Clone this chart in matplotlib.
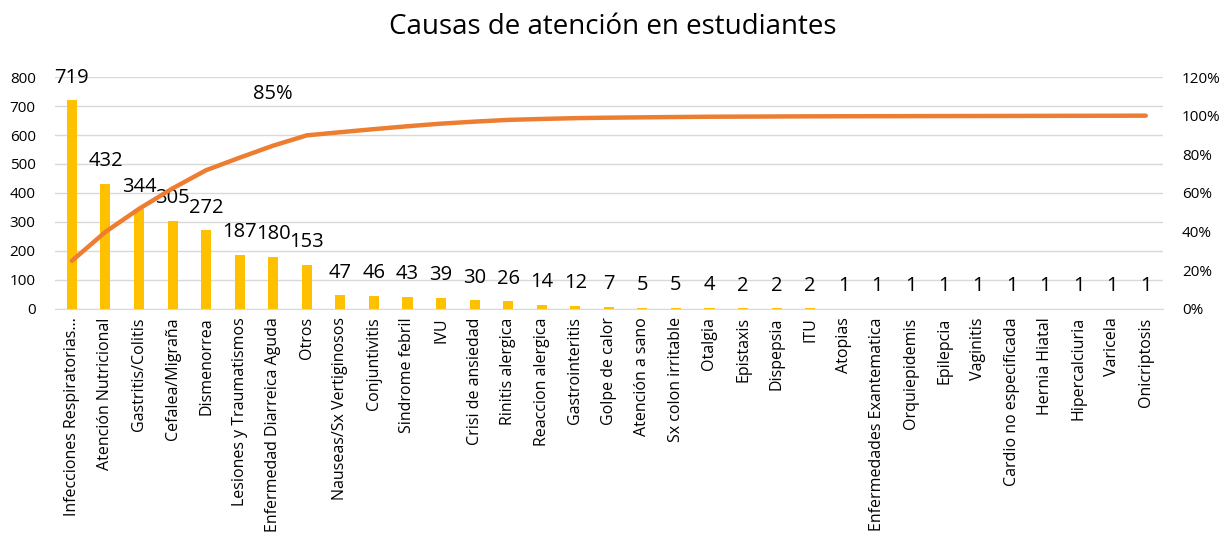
import numpy as np
import matplotlib.pyplot as plt
from matplotlib.ticker import PercentFormatter

plt.rcParams['font.family'] = ['Open Sans', 'DejaVu Sans']

# data
categorias = [
    "Infecciones Respiratorias...", "Atención Nutricional", "Gastritis/Colitis",
    "Cefalea/Migraña", "Dismenorrea", "Lesiones y Traumatismos",
    "Enfermedad Diarreica Aguda", "Otros", "Nauseas/Sx Vertiginosos",
    "Conjuntivitis", "Sindrome febril", "IVU", "Crisi de ansiedad",
    "Rinitis alergica", "Reaccion alergica", "Gastrointeritis", "Golpe de calor",
    "Atención a sano", "Sx colon irritable", "Otalgia", "Epistaxis", "Dispepsia",
    "ITU", "Atopias", "Enfermedades Exantematica", "Orquiepidemis", "Epilepcia",
    "Vaginitis", "Cardio no especificada", "Hernia Hiatal", "Hipercalciuria",
    "Varicela", "Onicriptosis",
]
casos = [719, 432, 344, 305, 272, 187, 180, 153, 47, 46, 43, 39, 30, 26, 14, 12,
         7, 5, 5, 4, 2, 2, 2, 1, 1, 1, 1, 1, 1, 1, 1, 1, 1]
etiqueta_pct = 6  # index of the point that gets the "85%" label

casos = np.array(casos)
acumulado = np.cumsum(casos) / casos.sum() * 100
x = np.arange(len(categorias))

fig = plt.figure(figsize=(12.25, 5.37), dpi=100)
ax = fig.add_axes([0.045, 0.4246, 0.904, 0.432])

ax.bar(x, casos, width=0.3, color='#FFC000', zorder=3)
ax.set_ylim(0, 800)
ax.set_xlim(-0.5, len(categorias) - 0.5)
ax.set_yticks(range(0, 801, 100))
ax.grid(axis='y', color='#D9D9D9', linewidth=1, zorder=0)
for s in ['top', 'right', 'left']:
    ax.spines[s].set_visible(False)
ax.spines['bottom'].set_color('#D9D9D9')
ax.tick_params(axis='y', length=0, labelsize=11, pad=14)
ax.tick_params(axis='x', length=0, pad=6)
ax.set_xticks(x)
ax.set_xticklabels(categorias, rotation=90, fontsize=11.5, va='top')

for xi, v in zip(x, casos):
    ax.annotate(str(v), (xi, v), xytext=(0, 9), textcoords='offset points',
                ha='center', va='bottom', fontsize=14.5, zorder=5)

ax2 = ax.twinx()
ax2.plot(x, acumulado, color='#ED7D31', linewidth=3.2, solid_capstyle='round', zorder=4)
ax2.set_ylim(0, 120)
ax2.set_yticks(range(0, 121, 20))
ax2.yaxis.set_major_formatter(PercentFormatter(decimals=0))
ax2.tick_params(axis='y', length=0, labelsize=11, pad=14)
for s in ['top', 'right', 'left', 'bottom']:
    ax2.spines[s].set_visible(False)
ax2.annotate(f"{acumulado[etiqueta_pct]:.0f}%", (x[etiqueta_pct], acumulado[etiqueta_pct]),
             xytext=(0, 30), textcoords='offset points', ha='center', va='bottom', fontsize=14.5)

fig.suptitle("Causas de atención en estudiantes", fontsize=20, y=0.975)

fig.savefig('out.png', dpi=100)
